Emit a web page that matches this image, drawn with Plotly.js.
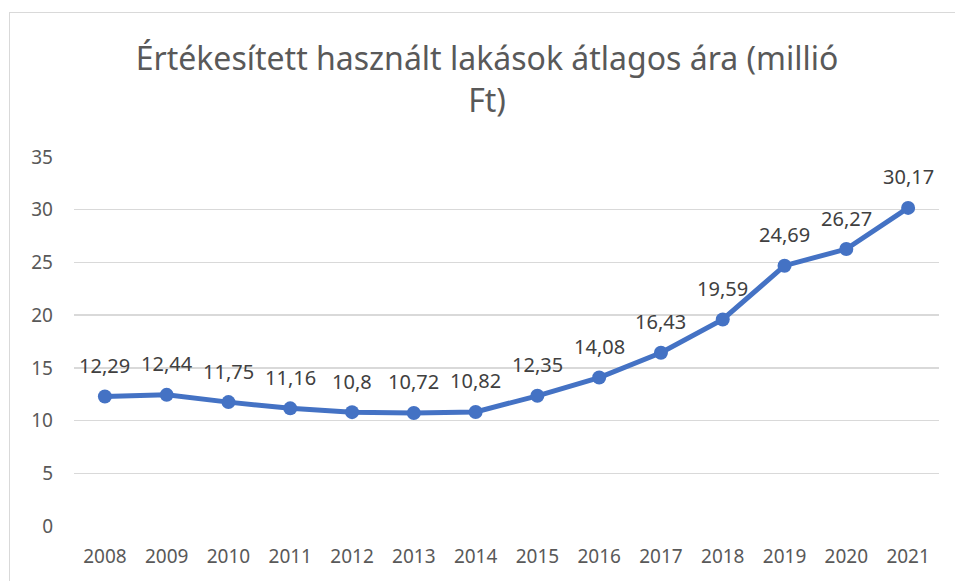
<!DOCTYPE html>
<html>
<head>
<meta charset="utf-8">
<script src="https://cdn.plot.ly/plotly-3.0.1.min.js"></script>
<style>
html,body{margin:0;padding:0;background:#fff;}
#wrap{position:relative;width:955px;height:581px;overflow:hidden;}
#frame{position:absolute;left:9px;top:12px;width:1000px;height:1000px;border:1px solid #d9d9d9;pointer-events:none;}
#chart{position:absolute;left:0;top:0;width:955px;height:581px;}
</style>
</head>
<body>
<div id="wrap"><div id="chart"></div><div id="frame"></div></div>
<script>
const years = ['2008','2009','2010','2011','2012','2013','2014','2015','2016','2017','2018','2019','2020','2021'];
const prices = [12.29,12.44,11.75,11.16,10.8,10.72,10.82,12.35,14.08,16.43,19.59,24.69,26.27,30.17];
const titleText = 'Értékesített használt lakások átlagos ára (millió<br>Ft)';

const labels = prices.map(v => String(v).replace('.', ','));
const font = '"Noto Sans", "Open Sans", sans-serif';

const annotations = years.map((yr, i) => ({
  x: i, y: prices[i], xref: 'x', yref: 'y', text: labels[i], showarrow: false,
  yshift: 31, font: {family: font, size: 20, color: '#404040'}
}));

Plotly.newPlot('chart', [{
  x: years, y: prices, type: 'scatter', mode: 'lines+markers',
  line: {color: '#4472C4', width: 5},
  marker: {color: '#4472C4', size: 14},
  cliponaxis: false, hoverinfo: 'skip'
}], {
  width: 955, height: 581,
  paper_bgcolor: 'rgba(0,0,0,0)', plot_bgcolor: 'rgba(0,0,0,0)',
  margin: {l: 74, r: 16, t: 157, b: 55},
  showlegend: false,
  annotations: annotations,
  title: {text: titleText, font: {family: font, size: 32, color: '#595959'},
          x: 0.51, xref: 'container', xanchor: 'center', y: 1 - 70/581, yanchor: 'top', yref: 'container'},
  xaxis: {type: 'category', range: [-0.5, 13.5], showgrid: false, showline: false, zeroline: false,
          ticks: '', tickfont: {family: font, size: 19, color: '#595959'}, ticklabelstandoff: 17},
  yaxis: {range: [0, 35], dtick: 5, showgrid: true, gridcolor: '#d9d9d9', gridwidth: 1.3,
          zeroline: false, showline: false, ticks: '',
          tickfont: {family: font, size: 19, color: '#595959'}, ticklabelstandoff: 20}
}, {staticPlot: true}).catch(e => { document.body.insertAdjacentHTML('beforeend', '<pre>'+e+'</pre>'); });
</script>
</body>
</html>
